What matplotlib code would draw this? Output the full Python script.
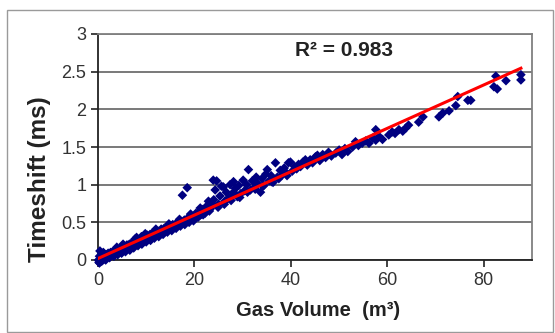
import matplotlib
matplotlib.use('Agg')
import matplotlib.pyplot as plt
from matplotlib.patches import Rectangle
import numpy as np

plt.rcParams['font.family'] = ['Liberation Sans', 'DejaVu Sans']

# Gas volume (m3) and timeshift (ms)
gas_volume = [
    0.1, 0.2, 0.3, 0.4, 0.5, 0.6, 0.8, 1.0, 1.1, 1.3, 1.5, 1.7, 1.9, 2.1, 2.3, 2.6, 2.8,
    3.0, 3.2, 3.5, 3.7, 4.0, 4.2, 4.5, 4.8, 5.0, 5.3, 5.5, 5.8, 6.0, 6.3, 6.5, 6.8, 7.0, 7.3, 7.5, 7.8,
    8.0, 8.2, 8.5, 8.8, 9.0, 9.3, 9.6, 9.9, 10.2, 10.5, 10.8, 11.0, 11.3, 11.6, 11.9, 12.2, 12.5, 12.8,
    13.1, 13.4, 13.7, 14.0,
    14.3, 14.6, 14.9, 15.2, 15.5, 15.8, 16.1, 16.4, 16.7, 17.0, 17.3, 17.6, 17.9, 18.2, 18.5, 18.8,
    19.1, 19.4, 19.7, 20.0, 20.3, 20.6,
    17.5, 18.5,
    21.0, 21.3, 21.6, 22.0, 22.3, 22.6, 22.9, 23.0, 23.3, 23.6, 23.9, 24.3, 24.6, 24.0,
    25.0, 25.3, 25.6, 26.0, 26.3, 26.6, 27.0, 27.4, 27.8, 28.1, 28.1, 28.5, 28.9, 29.2, 29.6, 30.1, 30.4,
    30.8, 31.2, 31.6, 32.0, 32.4, 32.8, 33.0, 33.7, 34.0, 34.4, 34.8, 35.1, 35.5, 35.9, 36.3,
    36.8, 37.2, 37.8, 38.2, 38.6, 39.0, 39.5, 39.9, 40.3, 40.8, 41.2, 41.6, 42.0, 42.5, 43.0, 43.4,
    44.0, 44.5, 45.1, 45.5, 46.0,
    46.6, 47.2, 47.8, 48.4, 49.3, 50.0, 50.6, 51.2, 51.8, 52.8, 53.4, 54.0, 54.8, 55.5, 56.2, 57.0,
    57.6, 57.6, 58.3, 59.0, 60.3,
    61.0, 61.6, 62.4, 63.2, 63.8, 64.4, 66.5, 67.4, 70.7, 71.5, 72.8, 74.2, 74.6, 76.7, 77.3,
    82.1, 82.5, 84.6, 87.7, 87.7, 82.8,
    # lower and upper edges of the dense band
    0.3, 0.9, 1.6, 2.4, 3.3, 4.1, 4.9, 5.7, 6.6, 7.4, 8.3, 9.1, 10.0, 10.9, 11.7, 12.6, 13.5,
    14.4, 15.3, 16.2, 17.1, 18.0, 18.9, 19.8, 20.8, 21.8,
    1.2, 3.9, 5.2, 7.7, 9.8, 12.0, 14.7, 16.9, 19.2, 21.2,
    22.2, 23.1, 24.9, 26.2, 27.6, 29.4, 31.0, 32.6, 34.2, 36.0, 37.5, 39.2,
]
timeshift = [
    0.00, -0.03, 0.05, 0.12, 0.02, -0.02, 0.06, 0.03, 0.10, 0.04, 0.01, 0.07, 0.05, 0.09, 0.06, 0.10, 0.08,
    0.11, 0.07, 0.12, 0.10, 0.15, 0.11, 0.14, 0.12, 0.18, 0.15, 0.17, 0.14, 0.20, 0.18, 0.21, 0.17, 0.23, 0.20, 0.25, 0.22,
    0.30, 0.24, 0.27, 0.25, 0.31, 0.27, 0.30, 0.28, 0.33, 0.30, 0.34, 0.31, 0.36, 0.33, 0.37, 0.35, 0.38, 0.36,
    0.41, 0.38, 0.42, 0.40,
    0.44, 0.41, 0.45, 0.43, 0.47, 0.44, 0.48, 0.46, 0.50, 0.47, 0.51, 0.49, 0.53, 0.50, 0.55, 0.52,
    0.56, 0.54, 0.58, 0.55, 0.62, 0.58,
    0.86, 0.96,
    0.64, 0.60, 0.67, 0.63, 0.70, 0.66, 0.78, 0.72, 0.68, 0.75, 1.06, 0.93, 1.05, 0.80,
    0.74, 0.85, 0.98, 0.97, 0.78, 0.90, 0.82, 1.00, 0.86, 1.04, 0.90, 0.95, 0.84, 0.99, 0.88, 1.06, 0.92,
    1.00, 1.20, 0.93, 1.05, 0.96, 1.10, 1.02, 0.90, 1.08, 0.99, 1.14, 1.20, 1.05, 1.12, 1.03,
    1.29, 1.10, 1.19, 1.13, 1.22, 1.16, 1.29, 1.30, 1.18, 1.24, 1.21, 1.27, 1.24, 1.30, 1.33, 1.26,
    1.33, 1.29, 1.37, 1.39, 1.32,
    1.40, 1.36, 1.43, 1.38, 1.42, 1.46, 1.40, 1.48, 1.44, 1.50, 1.57, 1.52, 1.55, 1.58, 1.55, 1.62,
    1.73, 1.59, 1.64, 1.60, 1.66,
    1.70, 1.68, 1.73, 1.71, 1.75, 1.79, 1.83, 1.90, 1.90, 1.95, 1.98, 2.05, 2.17, 2.12, 2.12,
    2.30, 2.44, 2.38, 2.46, 2.39, 2.27,
    -0.04, -0.01, 0.00, 0.03, 0.05, 0.07, 0.09, 0.11, 0.13, 0.16, 0.19, 0.21, 0.24, 0.26, 0.29, 0.31, 0.34,
    0.37, 0.39, 0.42, 0.45, 0.47, 0.50, 0.52, 0.57, 0.60,
    0.09, 0.17, 0.21, 0.28, 0.35, 0.41, 0.48, 0.54, 0.61, 0.69,
    0.62, 0.65, 0.70, 0.74, 0.79, 0.83, 0.90, 0.94, 0.98, 1.04, 1.08, 1.12,
]

# linear trendline shown on the chart
trend_slope = 0.0288
trend_intercept = 0.02
r2_text = 'R² = 0.983'

fig = plt.figure(figsize=(5.55, 3.33), dpi=100)
ax = fig.add_axes([98 / 555, 1 - 260 / 333, 434 / 555, 226 / 333])

ax.scatter(gas_volume, timeshift, marker='D', s=24, color='#000080',
           edgecolors='none', zorder=3, clip_on=False)
tx = np.array([0, max(gas_volume)])
ax.plot(tx, trend_slope * tx + trend_intercept, color='#ff0000', lw=2.2, zorder=4)

ax.set_xlim(0, 90)
ax.set_ylim(0, 3)
ax.set_xticks([0, 20, 40, 60, 80])
ax.set_yticks([0, 0.5, 1, 1.5, 2, 2.5, 3])
ax.set_yticklabels(['0', '0.5', '1', '1.5', '2', '2.5', '3'])
ax.yaxis.grid(True, color='#6e6e6e', lw=1.3)
ax.set_axisbelow(True)
ax.tick_params(labelsize=13, labelcolor='#333333', length=5, width=1.2, color='#222222')

for side in ['top', 'right']:
    ax.spines[side].set_color('#808080')
    ax.spines[side].set_linewidth(1.3)
for side in ['left', 'bottom']:
    ax.spines[side].set_color('#222222')
    ax.spines[side].set_linewidth(1.3)

ax.text(0.567, 0.929, r2_text, transform=ax.transAxes, ha='center', va='center',
        fontsize=15, fontweight='bold', color='#222222')

fig.text(318 / 555, 1 - 311 / 333, 'Gas Volume  (m³)', ha='center', va='center',
         fontsize=14.5, fontweight='bold', color='#222222')
fig.text(40 / 555, 1 - 179 / 333, 'Timeshift (ms)', rotation=90, ha='center', va='center',
         fontsize=17.5, fontweight='bold', color='#222222')

# outer chart border
fig.patches.append(Rectangle((7 / 555, 1 / 333), 546 / 555, 322 / 333,
                             transform=fig.transFigure, fill=False,
                             edgecolor='#9a9a9a', lw=1))

fig.savefig('out.png', dpi=100)
